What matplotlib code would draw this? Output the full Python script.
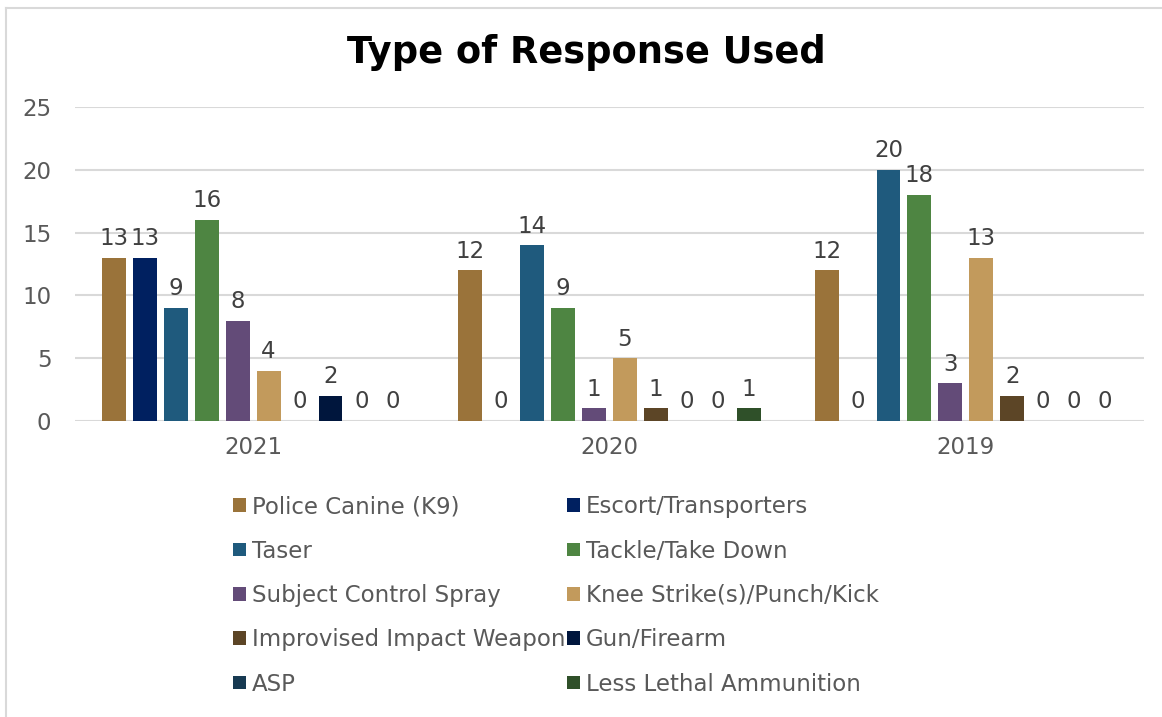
import numpy as np
import matplotlib.pyplot as plt
from matplotlib.lines import Line2D

years = ["2021", "2020", "2019"]
series = ["Police Canine (K9)", "Escort/Transporters", "Taser", "Tackle/Take Down",
          "Subject Control Spray", "Knee Strike(s)/Punch/Kick", "Improvised Impact Weapon",
          "Gun/Firearm", "ASP", "Less Lethal Ammunition"]
k9 = [13, 12, 12]
escort = [13, 0, 0]
taser = [9, 14, 20]
tackle = [16, 9, 18]
spray = [8, 1, 3]
knee = [4, 5, 13]
improvised = [0, 1, 2]
gun = [2, 0, 0]
asp = [0, 0, 0]
less_lethal = [0, 1, 0]
values = [k9, escort, taser, tackle, spray, knee, improvised, gun, asp, less_lethal]

colors = ["#9A733A", "#002060", "#1F5A7D", "#4E8542", "#634B78",
          "#C29A5C", "#5C4526", "#00163D", "#173A52", "#2F5029"]

plt.rcParams['font.family'] = ['DejaVu Sans']
txt = "#404040"
tick_col = "#595959"
fs = 16.5

fig = plt.figure(figsize=(11.62, 7.17), dpi=100)
ax = fig.add_axes([0.0645, 0.4128, 0.920, 0.438])

x = np.arange(len(years))
slot = 0.0868
width = 0.067
for i, (name, vals, c) in enumerate(zip(series, values, colors)):
    pos = x + (i - 4.5) * slot
    bars = ax.bar(pos, vals, width, color=c, label=name, zorder=3)
    for b, v in zip(bars, vals):
        ax.text(b.get_x() + b.get_width() / 2, v + 0.6, str(v), ha="center", va="bottom",
                fontsize=fs, color=txt)

ax.set_xlim(-0.5, 2.5)
ax.set_ylim(0, 25)
ax.set_yticks(range(0, 26, 5))
ax.set_xticks(x)
ax.set_xticklabels(years)
ax.grid(axis="y", color="#D9D9D9", linewidth=1.5, zorder=0)
for s in ax.spines.values():
    s.set_visible(False)
ax.tick_params(length=0, labelsize=fs, labelcolor=tick_col)
ax.tick_params(axis="y", pad=17)
ax.tick_params(axis="x", pad=11)

fig.text(0.505, 0.927, "Type of Response Used", ha="center", va="center",
         fontsize=26.5, fontweight="bold", color="black")

# legend, two columns filled row by row
handles, labels = ax.get_legend_handles_labels()
order = [0, 2, 4, 6, 8, 1, 3, 5, 7, 9]
leg = fig.legend([handles[k] for k in order], [labels[k] for k in order], ncol=2,
                 loc="upper left", bbox_to_anchor=(0.183, 0.338),
                 frameon=False, fontsize=fs, handlelength=0.55, handleheight=0.55,
                 handletextpad=0.25, columnspacing=0.1, labelspacing=0.93, labelcolor=tick_col)

# outer chart border
fig.add_artist(Line2D([0.0055, 1.0], [0.989, 0.989], color="#D9D9D9", linewidth=1.5,
                      transform=fig.transFigure))
fig.add_artist(Line2D([0.0055, 0.0055], [0.0, 0.989], color="#D9D9D9", linewidth=1.5,
                      transform=fig.transFigure))

fig.savefig("out.png", dpi=100)
